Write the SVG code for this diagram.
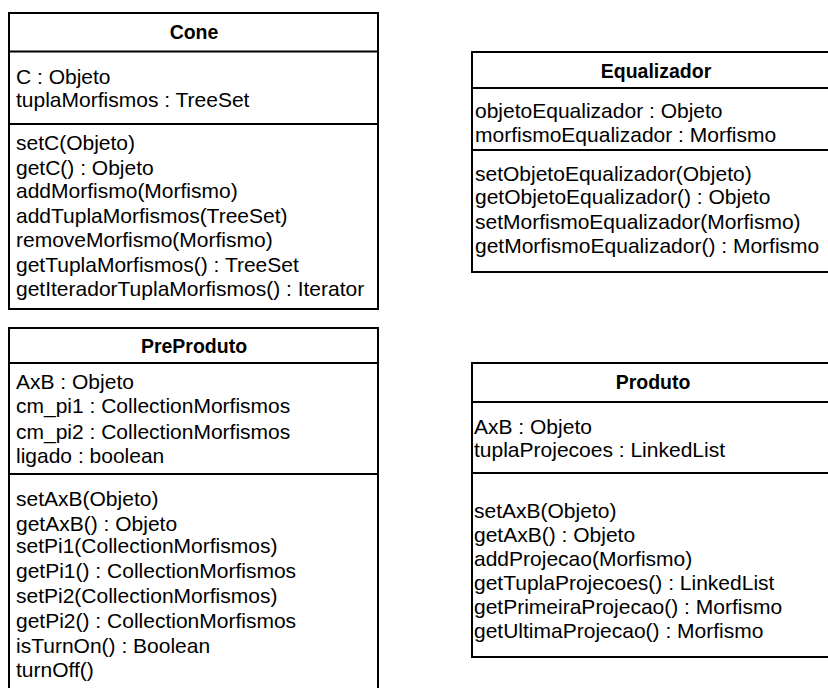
<svg xmlns="http://www.w3.org/2000/svg" width="828" height="688" viewBox="0 0 828 688">
  <style>
    .box { fill: #ffffff; stroke: #000000; stroke-width: 2; }
    .sep { stroke: #000000; stroke-width: 2; }
    .title { font-family: "Liberation Sans", Arial, sans-serif; font-size: 19.5px; font-weight: bold; text-anchor: middle; fill: #000000; }
    .member { font-family: "Liberation Sans", Arial, sans-serif; font-size: 21px; fill: #000000; }
  </style>
  <rect width="828" height="688" fill="#ffffff"/>

  <!-- Class Cone -->
  <g id="cone">
    <rect class="box" x="9" y="13" width="369" height="296"/>
    <line class="sep" x1="9" y1="51.5" x2="378" y2="51.5"/>
    <line class="sep" x1="9" y1="124" x2="378" y2="124"/>
    <text class="title" x="194" y="39">Cone</text>
    <text class="member" x="16" y="84">C : Objeto</text>
    <text class="member" x="16" y="107">tuplaMorfismos : TreeSet</text>
    <text class="member" x="16" y="150">setC(Objeto)</text>
    <text class="member" x="16" y="175">getC() : Objeto</text>
    <text class="member" x="16" y="198">addMorfismo(Morfismo)</text>
    <text class="member" x="16" y="223">addTuplaMorfismos(TreeSet)</text>
    <text class="member" x="16" y="247">removeMorfismo(Morfismo)</text>
    <text class="member" x="16" y="272">getTuplaMorfismos() : TreeSet</text>
    <text class="member" x="16" y="296">getIteradorTuplaMorfismos() : Iterator</text>
  </g>

  <!-- Class Equalizador -->
  <g id="equalizador">
    <rect class="box" x="472" y="52" width="368" height="220"/>
    <line class="sep" x1="472" y1="88" x2="840" y2="88"/>
    <line class="sep" x1="472" y1="150" x2="840" y2="150"/>
    <text class="title" x="656" y="78">Equalizador</text>
    <text class="member" x="475" y="118">objetoEqualizador : Objeto</text>
    <text class="member" x="475" y="142">morfismoEqualizador : Morfismo</text>
    <text class="member" x="475" y="181">setObjetoEqualizador(Objeto)</text>
    <text class="member" x="475" y="204">getObjetoEqualizador() : Objeto</text>
    <text class="member" x="475" y="229">setMorfismoEqualizador(Morfismo)</text>
    <text class="member" x="475" y="253">getMorfismoEqualizador() : Morfismo</text>
  </g>

  <!-- Class PreProduto -->
  <g id="preproduto">
    <rect class="box" x="9" y="328" width="369" height="380"/>
    <line class="sep" x1="9" y1="363" x2="378" y2="363"/>
    <line class="sep" x1="9" y1="474" x2="378" y2="474"/>
    <text class="title" x="194" y="353">PreProduto</text>
    <text class="member" x="16" y="389">AxB : Objeto</text>
    <text class="member" x="16" y="413">cm_pi1 : CollectionMorfismos</text>
    <text class="member" x="16" y="439">cm_pi2 : CollectionMorfismos</text>
    <text class="member" x="16" y="463">ligado : boolean</text>
    <text class="member" x="16" y="506">setAxB(Objeto)</text>
    <text class="member" x="16" y="531">getAxB() : Objeto</text>
    <text class="member" x="16" y="553">setPi1(CollectionMorfismos)</text>
    <text class="member" x="16" y="578">getPi1() : CollectionMorfismos</text>
    <text class="member" x="16" y="603">setPi2(CollectionMorfismos)</text>
    <text class="member" x="16" y="628">getPi2() : CollectionMorfismos</text>
    <text class="member" x="16" y="653">isTurnOn() : Boolean</text>
    <text class="member" x="16" y="677">turnOff()</text>
  </g>

  <!-- Class Produto -->
  <g id="produto">
    <rect class="box" x="472" y="363" width="366" height="294"/>
    <line class="sep" x1="472" y1="402" x2="838" y2="402"/>
    <line class="sep" x1="472" y1="473" x2="838" y2="473"/>
    <text class="title" x="653" y="389">Produto</text>
    <text class="member" x="474" y="434">AxB : Objeto</text>
    <text class="member" x="474" y="457">tuplaProjecoes : LinkedList</text>
    <text class="member" x="474" y="518">setAxB(Objeto)</text>
    <text class="member" x="474" y="542">getAxB() : Objeto</text>
    <text class="member" x="474" y="566">addProjecao(Morfismo)</text>
    <text class="member" x="474" y="590">getTuplaProjecoes() : LinkedList</text>
    <text class="member" x="474" y="614">getPrimeiraProjecao() : Morfismo</text>
    <text class="member" x="474" y="638">getUltimaProjecao() : Morfismo</text>
  </g>

  <!-- no connectors between these classes -->
  <g id="connectors"/>
</svg>
